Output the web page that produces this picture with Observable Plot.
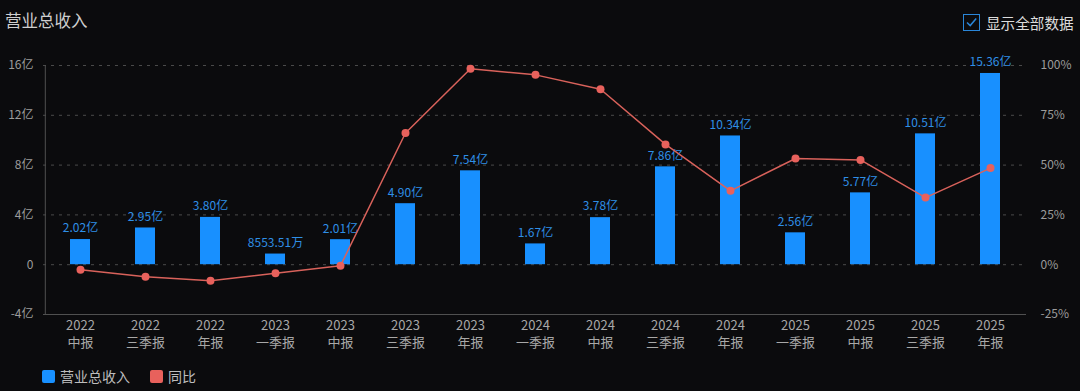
<!DOCTYPE html>
<html>
<head>
<meta charset="utf-8">
<script src="https://cdn.jsdelivr.net/npm/d3@7"></script>
<script src="https://cdn.jsdelivr.net/npm/@observablehq/plot@0.6"></script>
<style>
  html, body { margin: 0; padding: 0; background: #0b0b0d; }
  body { font-family: "Noto Sans CJK SC", "Noto Sans", sans-serif; }
  #wrap { position: relative; width: 1080px; height: 391px; background: #0b0b0d; overflow: hidden; }
  #title { position: absolute; left: 5px; top: 8px; font-size: 16.5px; color: #cfcfcf; }
  #toggle { position: absolute; left: 963px; top: 12px; display: flex; align-items: center; font-size: 14.6px; color: #dcdcdc; }
  #toggle .box { width: 17px; height: 17px; border: 1.5px solid #2a86d8; margin-right: 6px; position: relative; box-sizing: border-box; }
  #toggle .box svg { position: absolute; left: 1px; top: 1px; }
  #chart { position: absolute; left: 0; top: 40px; }
  #legend { position: absolute; left: 42px; top: 366px; display: flex; align-items: center; font-size: 14px; color: #bdbdbd; }
  #legend .item { display: flex; align-items: center; margin-right: 20px; }
  #legend .sw { width: 13px; height: 13px; border-radius: 2px; margin-right: 5px; }
</style>
</head>
<body>
<div id="wrap">
  <div id="title">营业总收入</div>
  <div id="toggle"><div class="box"><svg width="13" height="13" viewBox="0 0 13 13"><path d="M2 6.5 L5.2 9.6 L11.2 2.4" fill="none" stroke="#2a86d8" stroke-width="1.5"/></svg></div>显示全部数据</div>
  <div id="chart"></div>
  <div id="legend">
    <div class="item"><div class="sw" style="background:#1890ff"></div>营业总收入</div>
    <div class="item"><div class="sw" style="background:#e8615c"></div>同比</div>
  </div>
</div>
<script>
const periods = ["2022中报","2022三季报","2022年报","2023一季报","2023中报","2023三季报","2023年报","2024一季报","2024中报","2024三季报","2024年报","2025一季报","2025中报","2025三季报","2025年报"];
// 营业总收入, 单位: 亿
const revenue = [2.02, 2.95, 3.80, 0.855351, 2.01, 4.90, 7.54, 1.67, 3.78, 7.86, 10.34, 2.56, 5.77, 10.51, 15.36];
// 同比, %
const yoy = [-2.5, -6.0, -8.0, -4.3, -0.5, 66.1, 98.4, 95.3, 88.1, 60.4, 37.1, 53.3, 52.6, 33.7, 48.5];
const leftTicks = [-4, 0, 4, 8, 12, 16];
const pctPerUnit = 6.25; // 右轴: 16亿 <-> 100%

const rows = periods.map((p, i) => ({ p, v: revenue[i], r: yoy[i] / pctPerUnit }));
const fmtVal = v => v >= 1 ? v.toFixed(2) + "亿" : (v * 10000).toFixed(2) + "万";
const font = "Noto Sans CJK SC, Noto Sans, sans-serif";

const xOpts = { type: "band", domain: periods, paddingInner: 0.69, paddingOuter: 0.345, range: [45, 1026] };
const marginLeft = 43;
const xs = Plot.scale({ x: xOpts });
const axisLineDx = (marginLeft - 0.5) - (xs.apply(periods[0]) + xs.bandwidth / 2);

const chart = Plot.plot({
  width: 1080,
  height: 320,
  marginLeft,
  marginRight: 54,
  marginTop: 25,
  marginBottom: 46,
  style: { background: "transparent", fontFamily: font, overflow: "visible" },
  x: xOpts,
  y: { domain: [-4, 16] },
  marks: [
    Plot.gridY([0, 4, 8, 12, 16], { stroke: "#4a4a4a", strokeOpacity: 1, strokeDasharray: "3,5" }),
    Plot.ruleY([-4], { stroke: "#505050" }),
    Plot.ruleX([periods[0]], { x: d => d, y1: () => -4, y2: () => 16, dx: axisLineDx, stroke: "#505050", strokeWidth: 1 }),
    Plot.axisY(leftTicks, {
      anchor: "left", tickSize: 0, tickPadding: 10, fontSize: 12, fill: "#9c9c9c",
      tickFormat: d => d === 0 ? "0" : d + "亿", label: null
    }),
    Plot.axisY(leftTicks, {
      anchor: "right", tickSize: 0, tickPadding: 14, fontSize: 12, fill: "#9c9c9c",
      tickFormat: d => (d * pctPerUnit) + "%", label: null
    }),
    Plot.axisX({
      tickSize: 0, tickPadding: 6, fontSize: 13, fill: "#a8a8a8",
      tickFormat: d => d.slice(0, 4), label: null
    }),
    Plot.axisX({
      tickSize: 0, tickPadding: 23, fontSize: 13, fill: "#a8a8a8",
      tickFormat: d => d.slice(4), label: null
    }),
    Plot.barY(rows, { x: "p", y: "v", fill: "#1890ff" }),
    Plot.text(rows, { x: "p", y: "v", text: d => fmtVal(d.v), dy: -11, fill: "#2f8fe6", fontSize: 12 }),
    Plot.lineY(rows, { x: "p", y: "r", stroke: "#d9625b", strokeWidth: 1.5 }),
    Plot.dot(rows, { x: "p", y: "r", r: 4, fill: "#e8615c", stroke: "none" })
  ]
});
document.getElementById("chart").appendChild(chart);
</script>
</body>
</html>
